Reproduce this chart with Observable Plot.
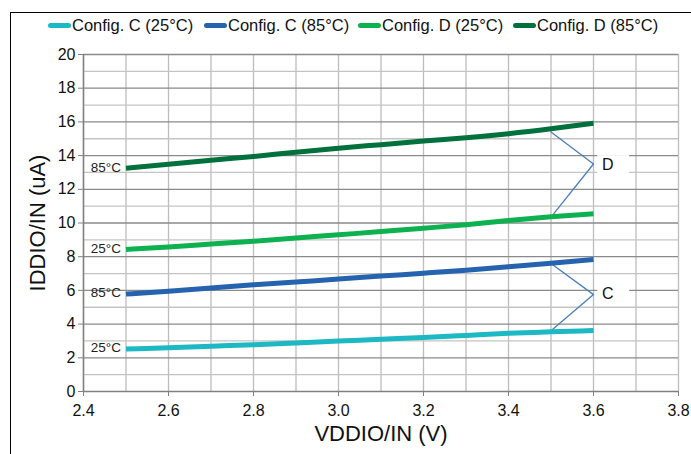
<!DOCTYPE html>
<html><head><meta charset="utf-8">
<script src="https://cdn.jsdelivr.net/npm/d3@7"></script>
<script src="https://cdn.jsdelivr.net/npm/@observablehq/plot@0.6"></script>
<style>
body{margin:0;background:#fff;font-family:"Liberation Sans",Arial,sans-serif;width:691px;height:454px;overflow:hidden;position:relative}
#frame{position:absolute;left:10px;top:12px;width:800px;height:600px;border:1px solid #000;pointer-events:none}
#legend{position:absolute;left:0;top:12px;width:691px;height:30px;font-size:16.5px;color:#111}
.item{display:flex;align-items:center;position:absolute;top:4px;white-space:nowrap}
.sw{width:23px;height:5px;border-radius:3px;margin-right:1px}
#chart{position:absolute;left:0;top:42px}
</style></head><body>
<div id="frame"></div>
<div id="legend"></div>
<div id="chart"></div>
<script>
const voltage = [2.5, 2.6, 2.7, 2.8, 2.9, 3.0, 3.1, 3.2, 3.3, 3.4, 3.5, 3.6];
const seriesNames = ["Config. C (25°C)", "Config. C (85°C)", "Config. D (25°C)", "Config. D (85°C)"];
const seriesColors = ["#1cb8c3", "#2563ae", "#0db14f", "#00703c"];
const configC25 = [2.52, 2.60, 2.69, 2.77, 2.88, 2.99, 3.10, 3.21, 3.33, 3.45, 3.54, 3.62];
const configC85 = [5.78, 5.95, 6.14, 6.33, 6.50, 6.67, 6.85, 7.02, 7.20, 7.40, 7.61, 7.83];
const configD25 = [8.43, 8.58, 8.75, 8.92, 9.11, 9.30, 9.49, 9.69, 9.90, 10.15, 10.37, 10.55];
const configD85 = [13.25, 13.48, 13.72, 13.95, 14.20, 14.44, 14.65, 14.86, 15.06, 15.30, 15.59, 15.92];
const xTicks = [2.4, 2.6, 2.8, 3.0, 3.2, 3.4, 3.6, 3.8];
const yTicks = [0, 2, 4, 6, 8, 10, 12, 14, 16, 18, 20];
const startLabels = ["25°C", "85°C", "25°C", "85°C"];
const groupLabels = ["C", "D"];
const groupLabelY = [5.8, 13.45];
const zigC = [[3.5, 7.6], [3.6, 5.75], [3.5, 3.6]];
const zigD = [[3.5, 15.4], [3.6, 13.5], [3.5, 10.35]];

const allSeries = [configC25, configC85, configD25, configD85];
const data = [];
allSeries.forEach((vals, i) => vals.forEach((v, j) => data.push({series: seriesNames[i], x: voltage[j], y: v})));
const starts = allSeries.map((vals, i) => ({x: voltage[0], y: vals[0], label: startLabels[i]}));
const zig = [...zigC.map(p => ({g: "C", x: p[0], y: p[1]})), ...zigD.map(p => ({g: "D", x: p[0], y: p[1]}))];
const grpBoxes = groupLabels.map((g, i) => ({g, y: groupLabelY[i]}));

// legend
const leg = document.getElementById("legend");
const legX = [48, 204, 358, 513];
seriesNames.forEach((n, i) => {
  const d = document.createElement("div"); d.className = "item"; d.style.left = legX[i] + "px";
  d.innerHTML = `<span class="sw" style="background:${seriesColors[i]}"></span><span>${n}</span>`;
  leg.appendChild(d);
});

const minorY = d3.range(1, 20, 2);
const plot = Plot.plot({
  width: 691, height: 412,
  marginLeft: 83, marginRight: 13, marginTop: 12, marginBottom: 63,
  style: {fontFamily: "Liberation Sans, Arial, sans-serif", fontSize: "16px", color: "#111", background: "transparent"},
  x: {domain: [2.4, 3.8]},
  y: {domain: [0, 20]},
  color: {domain: seriesNames, range: seriesColors},
  marks: [
    Plot.gridX(d3.range(24, 39).map(v => v / 10), {stroke: "#bdbdbd", strokeOpacity: 1, strokeWidth: 1.3}),
    Plot.gridY(minorY, {stroke: "#c4c4c4", strokeOpacity: 1, strokeWidth: 1.3}),
    Plot.gridY(yTicks.slice(1), {stroke: "#8a8a8a", strokeOpacity: 1, strokeWidth: 1.3}),
    Plot.rect(grpBoxes, {x1: 3.61, x2: 3.685, y1: d => d.y - 0.55, y2: d => d.y + 0.55, fill: "#fff"}),
    Plot.line(zig, {x: "x", y: "y", z: "g", stroke: "#4a7ebb", strokeWidth: 1.3}),
    Plot.line(data, {x: "x", y: "y", z: "series", stroke: "series", strokeWidth: 5, strokeLinecap: "butt", curve: "monotone-x"}),
    Plot.text(starts, {x: "x", y: "y", text: "label", textAnchor: "end", dx: -5, dy: -1, fontSize: 13.5, fill: "#222"}),
    Plot.text(grpBoxes, {x: 3.62, y: "y", text: "g", textAnchor: "start", fontSize: 16, fill: "#111"}),
    Plot.axisY(yTicks, {tickSize: 5, tickPadding: 3, fontSize: 16, stroke: "#808080", label: "IDDIO/IN (uA)", labelAnchor: "center", labelArrow: "none", labelOffset: 54}),
    Plot.axisX(xTicks, {tickSize: 5, tickPadding: 8, fontSize: 16, stroke: "#808080", tickFormat: d3.format(".1f"), label: null}),
    Plot.ruleY([0], {stroke: "#808080", strokeWidth: 1.5}),
    Plot.ruleX([2.4], {stroke: "#808080", strokeWidth: 1.5}),
    Plot.text(["VDDIO/IN (V)"], {frameAnchor: "bottom", dy: 49, fontSize: 22, fill: "#111"})
  ]
});
plot.querySelectorAll("text").forEach(t => { if (t.textContent === "IDDIO/IN (uA)") t.setAttribute("font-size", 22); });
document.getElementById("chart").appendChild(plot);
</script>
</body></html>
